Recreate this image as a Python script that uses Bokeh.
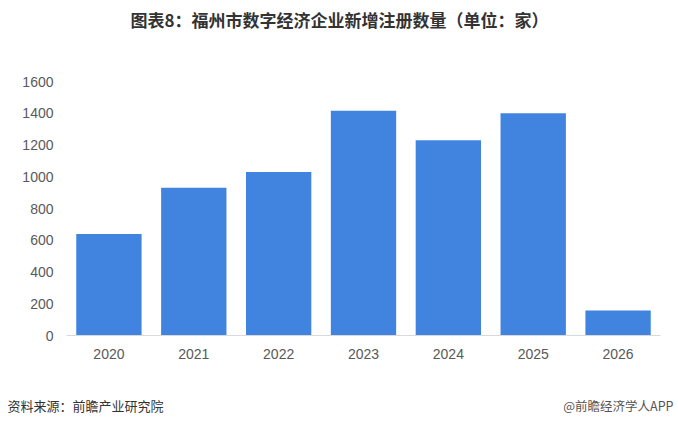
from bokeh.plotting import figure
from bokeh.layouts import column, row
from bokeh.models import Label, FixedTicker, Range1d, FactorRange
from bokeh.embed import file_html
from bokeh.resources import INLINE

years = ["2020", "2021", "2022", "2023", "2024", "2025", "2026"]
counts = [640, 930, 1030, 1415, 1230, 1400, 157]
y_ticks = [0, 200, 400, 600, 800, 1000, 1200, 1400, 1600]

title_text = "图表8：福州市数字经济企业新增注册数量（单位：家）"
source_text = "资料来源：前瞻产业研究院"
brand_text = "@前瞻经济学人APP"

W = 678
HEAD_H, MAIN_H, FOOT_H = 40, 350, 35


def blank_fig(h):
    f = figure(width=W, height=h, x_range=Range1d(0, W), y_range=Range1d(0, h),
               output_backend="svg", toolbar_location=None,
               x_axis_type=None, y_axis_type=None,
               min_border=0, min_border_left=0, min_border_right=0,
               min_border_top=0, min_border_bottom=0)
    f.outline_line_color = None
    f.xgrid.grid_line_color = None
    f.ygrid.grid_line_color = None
    f.border_fill_color = "white"
    f.background_fill_color = "white"
    return f


head = blank_fig(HEAD_H)
head.add_layout(Label(x=W / 2, y=HEAD_H - 19, text=title_text,
                      text_align="center", text_baseline="middle", text_font="Noto Sans CJK SC",
                      text_font_style="bold", text_font_size="17px", text_color="#333333"))

p = figure(width=W, height=MAIN_H, x_range=FactorRange(*years), y_range=Range1d(0, 1600),
           output_backend="svg", toolbar_location=None,
           min_border_left=66, min_border_right=18, min_border_top=41, min_border_bottom=55)
p.outline_line_color = None
p.background_fill_color = "white"
p.border_fill_color = "white"

p.vbar(x=years, top=counts, width=0.77, color="#4084E0", line_color=None)

p.xgrid.grid_line_color = None
p.ygrid.grid_line_color = None

p.yaxis.ticker = FixedTicker(ticks=y_ticks)
p.yaxis.axis_line_color = None
p.yaxis.major_tick_line_color = None
p.yaxis.minor_tick_line_color = None
p.yaxis.major_tick_out = 0
p.yaxis.major_tick_in = 0
p.yaxis.major_label_text_font = "Liberation Sans"
p.yaxis.major_label_text_font_size = "14px"
p.yaxis.major_label_text_color = "#595959"
p.yaxis.major_label_standoff = 13

p.xaxis.axis_line_color = "#D9D9D9"
p.xaxis.major_tick_line_color = None
p.xaxis.minor_tick_line_color = None
p.xaxis.major_tick_out = 0
p.xaxis.major_tick_in = 0
p.xaxis.major_label_text_font = "Liberation Sans"
p.xaxis.major_label_text_font_size = "14px"
p.xaxis.major_label_text_color = "#595959"
p.xaxis.major_label_standoff = 13

foot = blank_fig(FOOT_H)
foot.add_layout(Label(x=7, y=FOOT_H - 15, text=source_text,
                      text_align="left", text_baseline="middle", text_font="Noto Sans CJK SC",
                      text_font_size="13px", text_color="#333333"))
foot.add_layout(Label(x=673, y=FOOT_H - 15, text=brand_text,
                      text_align="right", text_baseline="middle", text_font="Noto Sans CJK SC",
                      text_font_size="12.5px", text_color="#555555"))

layout = column(row(head), row(p), row(foot), spacing=0)
open("out.html", "w").write(file_html(layout, INLINE))
